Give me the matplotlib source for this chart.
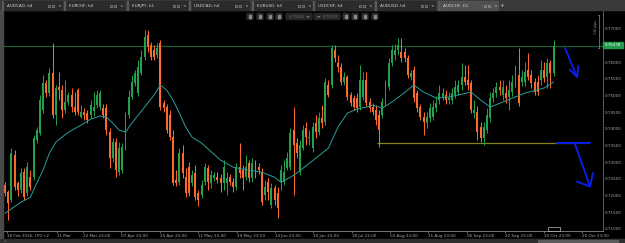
import matplotlib
matplotlib.use("Agg")
import matplotlib.pyplot as plt
from matplotlib.patches import Rectangle, FancyBboxPatch

# ---------------- data (AUDCHF, D1) ----------------
opens = [0.7231,0.7210,0.7186,0.7321,0.7237,0.7216,0.7270,0.7207,0.7255,0.7255,
         0.7366,0.7387,0.7456,0.7537,0.7507,0.7567,0.7441,0.7525,0.7516,0.7456,
         0.7480,0.7501,0.7465,0.7516,0.7435,0.7450,0.7447,0.7441,0.7453,0.7471,
         0.7465,0.7462,0.7462,0.7390,0.7312,0.7360,0.7270,0.7276,0.7345,0.7441,
         0.7495,0.7537,0.7507,0.7567,0.7615,0.7681,0.7651,0.7636,0.7621,0.7657,
         0.7477,0.7465,0.7441,0.7375,0.7246,0.7240,0.7327,0.7255,0.7285,0.7237,
         0.7267,0.7207,0.7201,0.7240,0.7282,0.7237,0.7252,0.7255,0.7252,0.7237,
         0.7237,0.7255,0.7240,0.7225,0.7285,0.7276,0.7255,0.7297,0.7252,0.7300,
         0.7285,0.7270,0.7201,0.7240,0.7171,0.7222,0.7207,0.7240,0.7240,0.7282,
         0.7285,0.7396,0.7357,0.7270,0.7342,0.7402,0.7372,0.7342,0.7417,0.7390,
         0.7432,0.7420,0.7531,0.7531,0.7636,0.7597,0.7585,0.7540,0.7555,0.7501,
         0.7492,0.7492,0.7465,0.7495,0.7546,0.7480,0.7465,0.7456,0.7441,0.7441,
         0.7486,0.7525,0.7597,0.7621,0.7636,0.7630,0.7630,0.7612,0.7555,0.7576,
         0.7507,0.7465,0.7435,0.7417,0.7432,0.7435,0.7462,0.7486,0.7495,0.7501,
         0.7486,0.7486,0.7501,0.7510,0.7531,0.7555,0.7546,0.7537,0.7447,0.7450,
         0.7405,0.7372,0.7396,0.7432,0.7492,0.7507,0.7525,0.7501,0.7507,0.7495,
         0.7510,0.7537,0.7561,0.7540,0.7540,0.7576,0.7561,0.7540,0.7540,0.7546,
         0.7576,0.7555,0.7597,0.7567]
highs = [0.7240,0.7216,0.7342,0.7336,0.7243,0.7282,0.7282,0.7300,0.7276,0.7381,
         0.7405,0.7501,0.7561,0.7546,0.7582,0.7657,0.7531,0.7570,0.7531,0.7546,
         0.7510,0.7522,0.7510,0.7522,0.7471,0.7462,0.7456,0.7486,0.7510,0.7516,
         0.7516,0.7474,0.7474,0.7402,0.7372,0.7372,0.7360,0.7357,0.7450,0.7516,
         0.7561,0.7576,0.7606,0.7636,0.7696,0.7696,0.7660,0.7651,0.7657,0.7666,
         0.7486,0.7474,0.7456,0.7396,0.7276,0.7342,0.7351,0.7282,0.7300,0.7276,
         0.7291,0.7216,0.7246,0.7297,0.7291,0.7276,0.7270,0.7270,0.7264,0.7306,
         0.7270,0.7264,0.7252,0.7297,0.7357,0.7291,0.7321,0.7306,0.7312,0.7306,
         0.7297,0.7282,0.7246,0.7252,0.7237,0.7231,0.7225,0.7291,0.7306,0.7330,
         0.7402,0.7465,0.7372,0.7366,0.7411,0.7420,0.7396,0.7420,0.7441,0.7450,
         0.7471,0.7552,0.7546,0.7651,0.7651,0.7621,0.7597,0.7570,0.7561,0.7510,
         0.7501,0.7507,0.7591,0.7570,0.7570,0.7492,0.7477,0.7471,0.7456,0.7492,
         0.7546,0.7612,0.7651,0.7654,0.7672,0.7672,0.7642,0.7621,0.7576,0.7588,
         0.7516,0.7474,0.7450,0.7450,0.7477,0.7486,0.7498,0.7531,0.7522,0.7516,
         0.7510,0.7522,0.7546,0.7546,0.7597,0.7591,0.7591,0.7546,0.7486,0.7468,
         0.7420,0.7420,0.7462,0.7510,0.7522,0.7540,0.7546,0.7546,0.7531,0.7546,
         0.7561,0.7591,0.7642,0.7576,0.7600,0.7627,0.7576,0.7552,0.7561,0.7606,
         0.7600,0.7612,0.7606,0.7666]
lows = [0.7198,0.7126,0.7180,0.7216,0.7200,0.7207,0.7186,0.7198,0.7216,0.7246,
        0.7357,0.7381,0.7447,0.7495,0.7498,0.7432,0.7411,0.7486,0.7432,0.7447,
        0.7471,0.7450,0.7441,0.7441,0.7432,0.7426,0.7417,0.7432,0.7438,0.7462,
        0.7456,0.7432,0.7381,0.7282,0.7300,0.7255,0.7261,0.7267,0.7336,0.7432,
        0.7490,0.7528,0.7498,0.7561,0.7606,0.7630,0.7606,0.7606,0.7612,0.7456,
        0.7450,0.7387,0.7366,0.7231,0.7228,0.7231,0.7252,0.7195,0.7198,0.7228,
        0.7186,0.7168,0.7192,0.7231,0.7216,0.7222,0.7243,0.7237,0.7210,0.7216,
        0.7201,0.7231,0.7210,0.7216,0.7252,0.7216,0.7246,0.7240,0.7240,0.7252,
        0.7264,0.7171,0.7186,0.7186,0.7162,0.7171,0.7132,0.7216,0.7231,0.7276,
        0.7276,0.7201,0.7312,0.7261,0.7336,0.7351,0.7351,0.7330,0.7372,0.7381,
        0.7402,0.7411,0.7495,0.7522,0.7600,0.7570,0.7531,0.7531,0.7486,0.7468,
        0.7456,0.7450,0.7456,0.7486,0.7468,0.7450,0.7441,0.7411,0.7345,0.7432,
        0.7471,0.7516,0.7588,0.7606,0.7621,0.7600,0.7600,0.7552,0.7546,0.7480,
        0.7450,0.7426,0.7381,0.7402,0.7420,0.7426,0.7450,0.7474,0.7486,0.7474,
        0.7474,0.7474,0.7492,0.7501,0.7516,0.7531,0.7516,0.7447,0.7432,0.7366,
        0.7360,0.7351,0.7387,0.7420,0.7480,0.7495,0.7501,0.7486,0.7477,0.7456,
        0.7498,0.7525,0.7468,0.7528,0.7528,0.7546,0.7522,0.7501,0.7501,0.7531,
        0.7540,0.7522,0.7522,0.7558]
closes = [0.7207,0.7177,0.7327,0.7225,0.7216,0.7267,0.7195,0.7285,0.7225,0.7372,
          0.7396,0.7486,0.7537,0.7507,0.7567,0.7441,0.7522,0.7516,0.7456,0.7480,
          0.7501,0.7465,0.7450,0.7450,0.7450,0.7441,0.7426,0.7471,0.7465,0.7501,
          0.7507,0.7441,0.7396,0.7312,0.7360,0.7276,0.7342,0.7345,0.7441,0.7495,
          0.7540,0.7567,0.7585,0.7615,0.7675,0.7645,0.7615,0.7615,0.7642,0.7465,
          0.7462,0.7396,0.7375,0.7237,0.7237,0.7327,0.7267,0.7207,0.7207,0.7261,
          0.7195,0.7186,0.7231,0.7285,0.7240,0.7261,0.7261,0.7246,0.7237,0.7285,
          0.7252,0.7240,0.7225,0.7285,0.7267,0.7252,0.7285,0.7252,0.7297,0.7267,
          0.7276,0.7180,0.7225,0.7210,0.7222,0.7186,0.7162,0.7276,0.7270,0.7312,
          0.7387,0.7351,0.7327,0.7351,0.7396,0.7375,0.7375,0.7405,0.7390,0.7432,
          0.7417,0.7540,0.7501,0.7642,0.7612,0.7585,0.7540,0.7555,0.7495,0.7477,
          0.7465,0.7462,0.7546,0.7546,0.7477,0.7462,0.7450,0.7426,0.7396,0.7480,
          0.7531,0.7597,0.7636,0.7636,0.7651,0.7612,0.7612,0.7561,0.7567,0.7492,
          0.7462,0.7435,0.7420,0.7435,0.7462,0.7465,0.7477,0.7507,0.7507,0.7486,
          0.7492,0.7507,0.7525,0.7531,0.7555,0.7540,0.7531,0.7456,0.7456,0.7390,
          0.7372,0.7405,0.7441,0.7492,0.7507,0.7525,0.7516,0.7525,0.7492,0.7516,
          0.7540,0.7570,0.7477,0.7555,0.7570,0.7555,0.7537,0.7510,0.7510,0.7576,
          0.7552,0.7597,0.7567,0.7648]

# moving average indicator, read at selected candles
ma_idx = [0,5,8,10,12,14,16,20,24,27,30,32,34,36,38,40,44,47,49,51,
          53,55,57,59,62,68,72,77,81,85,87,90,92,96,102,105,108,111,114,116,
          119,122,125,129,132,136,140,147,150,153,157,160,164,170,173]
ma_val = [0.7147,0.7180,0.7195,0.7237,0.7276,0.7327,0.7360,0.7390,0.7411,0.7429,
          0.7438,0.7435,0.7417,0.7396,0.7390,0.7417,0.7465,0.7501,0.7531,0.7516,
          0.7486,0.7447,0.7405,0.7375,0.7357,0.7306,0.7285,0.7276,0.7270,0.7255,
          0.7240,0.7255,0.7267,0.7297,0.7342,0.7405,0.7447,0.7459,0.7465,0.7471,
          0.7462,0.7480,0.7501,0.7531,0.7510,0.7492,0.7495,0.7510,0.7486,0.7465,
          0.7480,0.7492,0.7507,0.7522,0.7540]

current_price = 0.76478
support_level = 0.7357

price_ticks = [0.770, 0.765, 0.760, 0.755, 0.750, 0.745, 0.740, 0.735,
               0.730, 0.725, 0.720, 0.715, 0.710]
date_tick_pos = [0.5, 16.4, 24.6, 36.6, 48.9, 60.9, 73.2, 85.2, 97.2,
                 109.5, 121.5, 133.4, 145.7, 157.7, 170.0, 182.0]
date_tick_labels = ["18 Feb 2016, UTC+2", "11 Mar", "22 Mar 23:00", "07 Apr 23:00",
                    "25 Apr 23:00", "11 May 23:00", "29 May 23:00", "14 Jun 23:00",
                    "30 Jun 23:00", "18 Jul 23:00", "03 Aug 23:00", "21 Aug 23:00",
                    "06 Sep 23:00", "22 Sep 23:00", "10 Oct 23:00", "26 Oct 23:00"]
tabs = ["AUDCAD, h4", "EURCHF, h4", "EURJPY, h1", "USDCAD, h4",
        "EURUSD, h4", "USDCHF, h4", "AUDUSD, h4", "AUDCHF, D1"]

# ---------------- figure ----------------
W, H = 625, 243
fig = plt.figure(figsize=(W / 100, H / 100), dpi=100)
fig.patch.set_facecolor("#000000")

ax_left, ax_right, ax_top, ax_bot = 3, 603, 11, 231
ax = fig.add_axes([ax_left / W, (H - ax_bot) / H, (ax_right - ax_left) / W, (ax_bot - ax_top) / H])
ax.set_facecolor("#000000")

UP = "#22a24c"
DN = "#ff6a2c"
n = len(closes)
xs = list(range(n))
cols = [UP if c >= o else DN for o, c in zip(opens, closes)]
ax.vlines(xs, lows, highs, colors=cols, linewidth=0.7, zorder=2)
bottoms = [min(o, c) for o, c in zip(opens, closes)]
heights = [max(abs(c - o), 0.00012) for o, c in zip(opens, closes)]
ax.bar(xs, heights, bottom=bottoms, width=0.62, color=cols, linewidth=0, zorder=3)

ax.plot(ma_idx, ma_val, color="#2a9d98", linewidth=0.7, zorder=4)
ax.axhline(current_price, color="#1c5c34", linewidth=0.9, zorder=1)
ax.hlines(support_level, 117.3, 178.9, color="#85851a", linewidth=0.9, zorder=1)

ax.set_xlim(-0.63, 188.6)
ax.set_ylim(0.70940, 0.77527)

for s in ["left", "top"]:
    ax.spines[s].set_visible(False)
ax.spines["right"].set_color("#6a6a6a")
ax.spines["right"].set_linewidth(0.6)
ax.spines["bottom"].set_color("#8a8a8a")
ax.spines["bottom"].set_linewidth(0.6)

ax.yaxis.tick_right()
ax.set_yticks(price_ticks)
ax.set_yticklabels([f"{p:.5f}" for p in price_ticks])
ax.tick_params(axis="y", length=0, pad=1.5, labelsize=3.0, labelcolor="#a8a8a8")

ax.set_xticks(date_tick_pos)
ax.set_xticklabels(date_tick_labels)
for lbl in ax.get_xticklabels():
    lbl.set_horizontalalignment("left")
ax.tick_params(axis="x", length=1.3, width=0.5, color="#8a8a8a", pad=0.8,
               labelsize=3.0, labelcolor="#a8a8a8")

# ---------------- overlay (window chrome + annotations) ----------------
ov = fig.add_axes([0, 0, 1, 1], zorder=10)
ov.set_xlim(0, W)
ov.set_ylim(H, 0)
ov.axis("off")
ov.patch.set_alpha(0)

# tab bar
ov.add_patch(Rectangle((0, 0), W, 10.5, color="#3a3a3a", zorder=1))
tab_x = [2, 64, 127, 189, 252, 313, 375, 438]
tab_w = 60
for i, (tx, name) in enumerate(zip(tab_x, tabs)):
    active = i == len(tabs) - 1
    ov.add_patch(Rectangle((tx, 1.5), tab_w, 9, color="#505050" if active else "#2b2b2b", zorder=2))
    ov.add_patch(Rectangle((tx, 1.5), 0.8, 9, color="#5a5a5a", zorder=3))
    ov.text(tx + 5, 6.2, name, fontsize=3.0, color="#d0d0d0", va="center", ha="left", zorder=4)
    ov.text(tx + tab_w - 3, 6.2, "×", fontsize=3.2, color="#bbbbbb", va="center", ha="center", zorder=4)
    for k in (0, 1):
        ov.add_patch(Rectangle((tx + tab_w - 14 + 4 * k, 4.8), 2.4, 2.4, fill=False,
                               edgecolor="#aaaaaa", linewidth=0.4, zorder=4))
ov.text(502, 5.8, "+", fontsize=4, color="#cccccc", va="center", ha="center", zorder=4)

# left frame strip
ov.add_patch(Rectangle((0, 10.5), 2.8, 228, color="#4a4a4a", zorder=1))
# bottom bar with scrollbar
ov.add_patch(Rectangle((0, 238.5), W, 5, color="#2e2e2e", zorder=1))
ov.add_patch(Rectangle((538, 239.6), 80, 2.4, color="#5c5c5c", zorder=2))
ov.text(5, 241, "◂", fontsize=2.5, color="#888888", va="center", ha="center", zorder=3)

# chart toolbar
for x in [247, 257, 267, 276, 343, 352, 362, 372]:
    ov.add_patch(FancyBboxPatch((x, 13.5), 6, 6, boxstyle="round,pad=0,rounding_size=1",
                                color="#2a2a2a", zorder=2))
    ov.add_patch(Rectangle((x + 1.8, 15.3), 2.4, 2.4, color="#8a8a8a", zorder=3))
for x, txt in [(286, "0.75245  ▬"), (314, "▬  0.75478")]:
    ov.add_patch(FancyBboxPatch((x, 13.5), 26, 6, boxstyle="round,pad=0,rounding_size=1",
                                color="#262626", zorder=2))
    ov.text(x + 13, 16.6, txt, fontsize=2.6, color="#707070", va="center", ha="center", zorder=3)

# measurement bracket "130 pips"
ov.plot([599, 599], [15, 48], color="#8a8a8a", linewidth=0.5, zorder=3)
ov.plot([597.5, 599], [15, 15], color="#8a8a8a", linewidth=0.5, zorder=3)
ov.plot([597.5, 599], [48, 48], color="#8a8a8a", linewidth=0.5, zorder=3)
ov.text(596.5, 27, "130 pips", fontsize=2.3, color="#9a9a9a", rotation=90,
        va="center", ha="center", zorder=3)

# current price box
ov.add_patch(Rectangle((603, 42.4), 20, 5.6, color="#1f9a48", zorder=3))
ov.text(613, 45.3, f"{current_price:.5f}", fontsize=2.9, color="#ffffff",
        va="center", ha="center", zorder=4)

# cursor marker on the time axis
ov.add_patch(Rectangle((548, 226.5), 11.5, 4.5, fill=False, edgecolor="#bbbbbb",
                       linewidth=0.5, zorder=3))

# hand-drawn blue arrows
BL = "#0a1ee8"
kw = dict(color=BL, linewidth=1.4, solid_capstyle="round", zorder=6)
ov.plot([565, 577], [48, 77], **kw)
ov.plot([570, 577, 578.5], [70, 77, 66], **kw)
ov.plot([557, 590], [143, 143], **kw)
ov.plot([575, 590], [144, 186.5], **kw)
ov.plot([577, 590, 593], [181.5, 186.5, 173], **kw)

fig.savefig("out.png", dpi=100, facecolor=fig.get_facecolor())
